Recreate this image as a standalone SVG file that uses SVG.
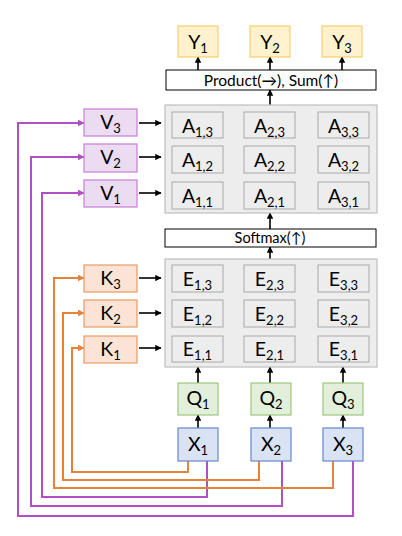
<svg xmlns="http://www.w3.org/2000/svg" width="402" height="536" viewBox="0 0 402 536">
<style>
text{font-family:Lato,"Open Sans","Liberation Sans",sans-serif;fill:#000}
.big{font-size:19.5px}
.sub{font-size:13px}
.y{fill:#FFF2CC;stroke:#F5CF6A;stroke-width:1.2}
.q{fill:#E2EFDA;stroke:#9DC77E;stroke-width:1.2}
.x{fill:#DAE3F3;stroke:#6688CC;stroke-width:1.2}
.v{fill:#EBDCF2;stroke:#C77ED6;stroke-width:1.2}
.k{fill:#FBE4D5;stroke:#EC9A63;stroke-width:1.2}
.panel{fill:#EDEDED;stroke:#BFBFBF;stroke-width:1.2}
.cell{fill:#EDEDED;stroke:#A9A9A9;stroke-width:1}
.bar{fill:#FFFFFF;stroke:#000;stroke-width:1}
.blk{fill:none;stroke:#000;stroke-width:1.6;marker-end:url(#ab)}
.pur{fill:none;stroke:#B150C6;stroke-width:2;marker-end:url(#ap)}
.org{fill:none;stroke:#E7823D;stroke-width:2;marker-end:url(#ao)}
</style>
<defs>
<marker id="ab" viewBox="0 0 10 10" refX="9" refY="5" markerWidth="4" markerHeight="4" orient="auto"><path d="M0,0 L10,5 L0,10 z" fill="#000"/></marker>
<marker id="ap" viewBox="0 0 10 10" refX="9" refY="5" markerWidth="3.5" markerHeight="3.5" orient="auto"><path d="M0,0 L10,5 L0,10 z" fill="#B150C6"/></marker>
<marker id="ao" viewBox="0 0 10 10" refX="9" refY="5" markerWidth="3.5" markerHeight="3.5" orient="auto"><path d="M0,0 L10,5 L0,10 z" fill="#E7823D"/></marker>
</defs>

<g id="connectors">
<path class="pur" d="M353,461 V516 H18 V123 H84"/>
<path class="pur" d="M282,461 V506 H31 V157 H84"/>
<path class="pur" d="M207,461 V497 H42 V193 H84"/>
<path class="org" d="M333,461 V488 H54 V278 H84"/>
<path class="org" d="M259,461 V480 H63 V313 H84"/>
<path class="org" d="M188,461 V472 H72 V348 H84"/>
<path class="blk" d="M139,123 H161"/>
<path class="blk" d="M139,157 H161"/>
<path class="blk" d="M139,193 H161"/>
<path class="blk" d="M139,278 H161"/>
<path class="blk" d="M139,313 H161"/>
<path class="blk" d="M139,348 H161"/>
<path class="blk" d="M198,70 V57"/>
<path class="blk" d="M270,70 V57"/>
<path class="blk" d="M342,70 V57"/>
<path class="blk" d="M270,105 V90"/>
<path class="blk" d="M270,229 V213"/>
<path class="blk" d="M270,259 V247"/>
<path class="blk" d="M198,383 V367"/>
<path class="blk" d="M270,383 V367"/>
<path class="blk" d="M343,383 V367"/>
<path class="blk" d="M198,428 V415"/>
<path class="blk" d="M270,428 V415"/>
<path class="blk" d="M343,428 V415"/>
</g>

<g id="Y1"><rect class="y" x="178" y="26" width="40" height="31"/><text class="big" x="198" y="49" text-anchor="middle">Y<tspan class="sub" dy="4">1</tspan></text></g>
<g id="Y2"><rect class="y" x="250" y="26" width="40" height="31"/><text class="big" x="270" y="49" text-anchor="middle">Y<tspan class="sub" dy="4">2</tspan></text></g>
<g id="Y3"><rect class="y" x="322" y="26" width="40" height="31"/><text class="big" x="342" y="49" text-anchor="middle">Y<tspan class="sub" dy="4">3</tspan></text></g>

<g id="product"><rect class="bar" x="166" y="70" width="210" height="20"/><text x="271" y="85.5" font-size="15.5" text-anchor="middle">Product(→), Sum(↑)</text></g>

<g id="A">
<rect class="panel" x="165" y="105" width="212" height="108"/>
<rect class="cell" x="172" y="112" width="51" height="26"/><text class="big" x="197.5" y="133" text-anchor="middle">A<tspan class="sub" dy="4">1,3</tspan></text>
<rect class="cell" x="244" y="112" width="51" height="26"/><text class="big" x="269.5" y="133" text-anchor="middle">A<tspan class="sub" dy="4">2,3</tspan></text>
<rect class="cell" x="318" y="112" width="51" height="26"/><text class="big" x="343.5" y="133" text-anchor="middle">A<tspan class="sub" dy="4">3,3</tspan></text>
<rect class="cell" x="172" y="146" width="51" height="27"/><text class="big" x="197.5" y="167" text-anchor="middle">A<tspan class="sub" dy="4">1,2</tspan></text>
<rect class="cell" x="244" y="146" width="51" height="27"/><text class="big" x="269.5" y="167" text-anchor="middle">A<tspan class="sub" dy="4">2,2</tspan></text>
<rect class="cell" x="318" y="146" width="51" height="27"/><text class="big" x="343.5" y="167" text-anchor="middle">A<tspan class="sub" dy="4">3,2</tspan></text>
<rect class="cell" x="172" y="182" width="51" height="27"/><text class="big" x="197.5" y="203" text-anchor="middle">A<tspan class="sub" dy="4">1,1</tspan></text>
<rect class="cell" x="244" y="182" width="51" height="27"/><text class="big" x="269.5" y="203" text-anchor="middle">A<tspan class="sub" dy="4">2,1</tspan></text>
<rect class="cell" x="318" y="182" width="51" height="27"/><text class="big" x="343.5" y="203" text-anchor="middle">A<tspan class="sub" dy="4">3,1</tspan></text>
</g>

<g id="softmax"><rect class="bar" x="165" y="229" width="211" height="18"/><text x="270" y="243" font-size="14.5" text-anchor="middle">Softmax(↑)</text></g>

<g id="E">
<rect class="panel" x="165" y="259" width="212" height="108"/>
<rect class="cell" x="172" y="265" width="51" height="27"/><text class="big" x="197.5" y="286" text-anchor="middle">E<tspan class="sub" dy="4">1,3</tspan></text>
<rect class="cell" x="244" y="265" width="51" height="27"/><text class="big" x="269.5" y="286" text-anchor="middle">E<tspan class="sub" dy="4">2,3</tspan></text>
<rect class="cell" x="318" y="265" width="51" height="27"/><text class="big" x="343.5" y="286" text-anchor="middle">E<tspan class="sub" dy="4">3,3</tspan></text>
<rect class="cell" x="172" y="300" width="51" height="27"/><text class="big" x="197.5" y="321" text-anchor="middle">E<tspan class="sub" dy="4">1,2</tspan></text>
<rect class="cell" x="244" y="300" width="51" height="27"/><text class="big" x="269.5" y="321" text-anchor="middle">E<tspan class="sub" dy="4">2,2</tspan></text>
<rect class="cell" x="318" y="300" width="51" height="27"/><text class="big" x="343.5" y="321" text-anchor="middle">E<tspan class="sub" dy="4">3,2</tspan></text>
<rect class="cell" x="172" y="336" width="51" height="26"/><text class="big" x="197.5" y="356" text-anchor="middle">E<tspan class="sub" dy="4">1,1</tspan></text>
<rect class="cell" x="244" y="336" width="51" height="26"/><text class="big" x="269.5" y="356" text-anchor="middle">E<tspan class="sub" dy="4">2,1</tspan></text>
<rect class="cell" x="318" y="336" width="51" height="26"/><text class="big" x="343.5" y="356" text-anchor="middle">E<tspan class="sub" dy="4">3,1</tspan></text>
</g>

<g id="V3"><rect class="v" x="84" y="109" width="53" height="27"/><text class="big" x="110.5" y="129" text-anchor="middle">V<tspan class="sub" dy="4">3</tspan></text></g>
<g id="V2"><rect class="v" x="84" y="144" width="53" height="28"/><text class="big" x="110.5" y="164" text-anchor="middle">V<tspan class="sub" dy="4">2</tspan></text></g>
<g id="V1"><rect class="v" x="84" y="180" width="53" height="27"/><text class="big" x="110.5" y="200" text-anchor="middle">V<tspan class="sub" dy="4">1</tspan></text></g>

<g id="K3"><rect class="k" x="84" y="265" width="53" height="27"/><text class="big" x="110.5" y="285" text-anchor="middle">K<tspan class="sub" dy="4">3</tspan></text></g>
<g id="K2"><rect class="k" x="84" y="300" width="53" height="27"/><text class="big" x="110.5" y="320" text-anchor="middle">K<tspan class="sub" dy="4">2</tspan></text></g>
<g id="K1"><rect class="k" x="84" y="336" width="53" height="27"/><text class="big" x="110.5" y="356" text-anchor="middle">K<tspan class="sub" dy="4">1</tspan></text></g>

<g id="Q1"><rect class="q" x="178" y="383" width="40" height="32"/><text class="big" x="198" y="405" text-anchor="middle">Q<tspan class="sub" dy="4">1</tspan></text></g>
<g id="Q2"><rect class="q" x="251" y="383" width="40" height="32"/><text class="big" x="271" y="405" text-anchor="middle">Q<tspan class="sub" dy="4">2</tspan></text></g>
<g id="Q3"><rect class="q" x="323" y="383" width="40" height="32"/><text class="big" x="343" y="405" text-anchor="middle">Q<tspan class="sub" dy="4">3</tspan></text></g>

<g id="X1"><rect class="x" x="178" y="428" width="40" height="33"/><text class="big" x="198" y="451" text-anchor="middle">X<tspan class="sub" dy="4">1</tspan></text></g>
<g id="X2"><rect class="x" x="251" y="428" width="40" height="33"/><text class="big" x="271" y="451" text-anchor="middle">X<tspan class="sub" dy="4">2</tspan></text></g>
<g id="X3"><rect class="x" x="323" y="428" width="40" height="33"/><text class="big" x="343" y="451" text-anchor="middle">X<tspan class="sub" dy="4">3</tspan></text></g>
</svg>
